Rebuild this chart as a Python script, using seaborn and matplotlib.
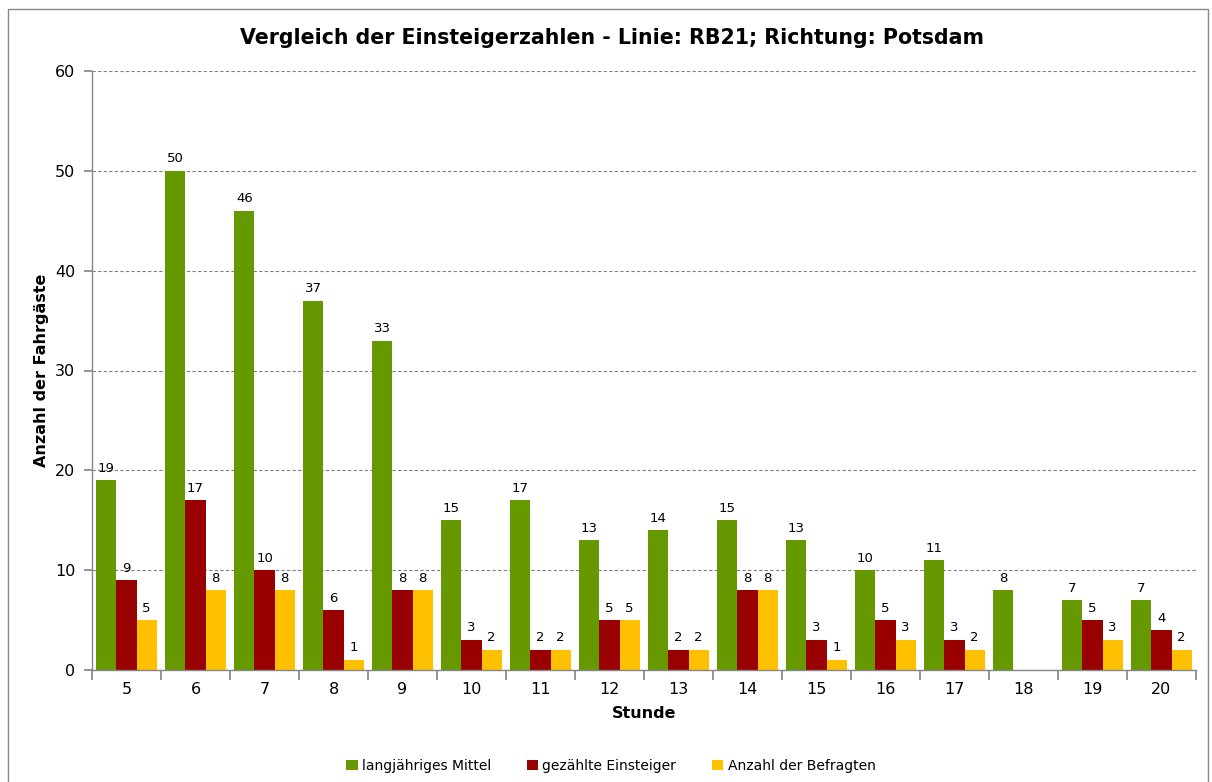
import matplotlib
matplotlib.use("Agg")
import matplotlib.pyplot as plt
import seaborn as sns
import pandas as pd
import numpy as np
from matplotlib.patches import Rectangle

stunden = [5, 6, 7, 8, 9, 10, 11, 12, 13, 14, 15, 16, 17, 18, 19, 20]
mittel = [19, 50, 46, 37, 33, 15, 17, 13, 14, 15, 13, 10, 11, 8, 7, 7]
einsteiger = [9, 17, 10, 6, 8, 3, 2, 5, 2, 8, 3, 5, 3, 0, 5, 4]
befragte = [5, 8, 8, 1, 8, 2, 2, 5, 2, 8, 1, 3, 2, 0, 3, 2]
series = ["langjähriges Mittel", "gezählte Einsteiger", "Anzahl der Befragten"]
colors = ["#669900", "#990000", "#FFC000"]

sns.set_theme(style="white")
plt.rcParams["font.family"] = ["DejaVu Sans"]
plt.rcParams["text.color"] = "black"
plt.rcParams["axes.labelcolor"] = "black"
plt.rcParams["xtick.color"] = "black"
plt.rcParams["ytick.color"] = "black"

df = pd.DataFrame({
    "Stunde": [str(s) for s in stunden] * 3,
    "Wert": mittel + einsteiger + befragte,
    "Serie": [series[0]] * 16 + [series[1]] * 16 + [series[2]] * 16,
})

fig = plt.figure(figsize=(12.12, 7.82), dpi=100)
ax = fig.add_axes([92 / 1212, 1 - 670 / 782, (1196 - 92) / 1212, (670 - 71) / 782])

sns.barplot(data=df, x="Stunde", y="Wert", hue="Serie", palette=colors,
            order=[str(s) for s in stunden], hue_order=series,
            width=0.87, saturation=1, ax=ax, errorbar=None, legend=True,
            linewidth=0, edgecolor="none")

for cont in ax.containers:
    labels = [f"{int(round(b.get_height()))}" if b.get_height() > 0 else "" for b in cont]
    ax.bar_label(cont, labels=labels, padding=4, fontsize=9.5, color="black")

ax.set_ylim(0, 60)
ax.set_xlim(-0.5, 15.5)
ax.set_yticks(np.arange(0, 61, 10))
ax.yaxis.grid(True, linestyle=(0, (3, 2)), color="#808080", linewidth=0.8)
ax.set_axisbelow(True)
for s in ["top", "right"]:
    ax.spines[s].set_visible(False)
for s in ["left", "bottom"]:
    ax.spines[s].set_color("#868686")
    ax.spines[s].set_linewidth(1.0)

ax.set_xticks(np.arange(-0.5, 15.6, 1.0))
ax.set_xticklabels([])
ax.set_xticks(np.arange(0, 16), minor=True)
ax.set_xticklabels([str(s) for s in stunden], minor=True, fontsize=11.5)
ax.tick_params(axis="x", which="major", length=7, color="#868686", direction="out", bottom=True)
ax.tick_params(axis="x", which="minor", length=0, pad=9, bottom=True)
ax.tick_params(axis="y", length=6, color="#868686", direction="out", labelsize=11.5, pad=6, left=True)

ax.set_xlabel("Stunde", fontsize=11.5, fontweight="bold", labelpad=6)
ax.set_ylabel("Anzahl der Fahrgäste", fontsize=11.5, fontweight="bold", labelpad=4)

fig.text(612 / 1212, 1 - 38 / 782, "Vergleich der Einsteigerzahlen - Linie: RB21; Richtung: Potsdam",
         ha="center", va="center", fontsize=14.8, fontweight="bold", color="black")

handles, labels = ax.get_legend_handles_labels()
ax.get_legend().remove()
fig.legend(handles, labels, loc="center", bbox_to_anchor=(611 / 1212, 1 - 766 / 782), ncol=3,
           frameon=False, fontsize=10, handlelength=0.8, handleheight=0.8,
           handletextpad=0.3, columnspacing=2.6)

fig.patches.append(Rectangle((8 / 1212, -0.01), (1208 - 8) / 1212, 1 - 9 / 782 + 0.01,
                             transform=fig.transFigure, fill=False, edgecolor="#888888", linewidth=1.0))

fig.savefig("out.png", dpi=100)
